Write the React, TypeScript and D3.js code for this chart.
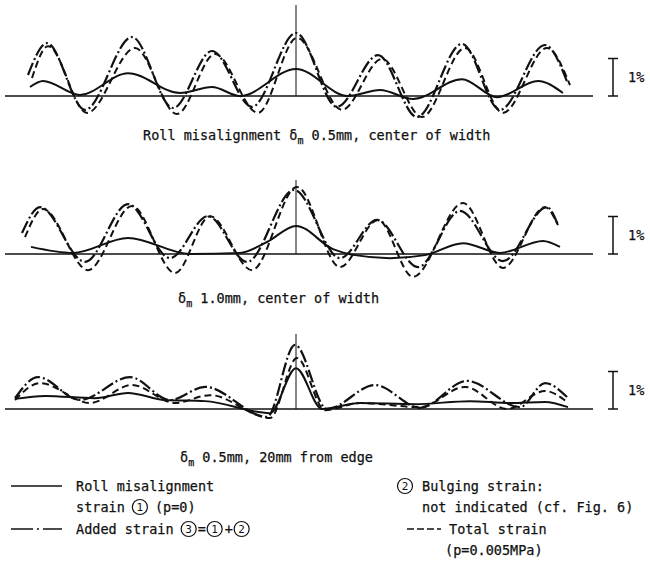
import React from "react";
import * as d3 from "d3";

// x: position relative to the centre roll (px-like units), y: strain in %
type P = [number, number];

const p1Roll: P[] = [[-266,0.24],[-253,0.4],[-216,0.03],[-168,0.61],[-116,0.08],[-84,0.24],[-56,0],[0,0.72],[52,0],[84,0.16],[117,-0.08],[166,0.45],[201,-0.03],[242,0.4],[267,0.08]];
const p1Added: P[] = [[-268,0.56],[-249,1.41],[-211,-0.37],[-164,1.57],[-123,-0.32],[-84,1.2],[-44,-0.29],[0,1.68],[41,-0.29],[82,1.09],[121,-0.56],[166,1.39],[204,-0.37],[249,1.36],[272,0.32]];
const p1Total: P[] = [[-264,0.48],[-248,1.33],[-209,-0.45],[-161,1.28],[-119,-0.48],[-81,1.12],[-38,-0.45],[1,1.55],[46,-0.37],[86,0.99],[126,-0.56],[169,1.28],[207,-0.45],[251,1.28],[274,0.29]];

const p2Roll: P[] = [[-265,0.19],[-223,0.03],[-168,0.43],[-106,0],[-56,0.03],[-29,0.32],[0,0.75],[37,0.13],[59,-0.03],[94,-0.11],[129,-0.03],[167,0.29],[204,0.03],[247,0.35],[264,0.19]];
const p2Added: P[] = [[-274,0.56],[-256,1.25],[-211,-0.21],[-168,1.33],[-126,-0.11],[-88,1.01],[-49,-0.21],[-2,1.71],[44,-0.11],[81,0.91],[122,-0.35],[164,1.15],[207,-0.19],[251,1.25],[262,0.77]];
const p2Total: P[] = [[-271,0.45],[-253,1.2],[-208,-0.43],[-164,1.28],[-121,-0.51],[-86,1.01],[-44,-0.43],[1,1.79],[44,-0.35],[82,0.91],[117,-0.61],[167,1.36],[207,-0.37],[249,1.25],[262,0.77]];

const p3Roll: P[] = [[-281,0.27],[-251,0.35],[-201,0.29],[-168,0.43],[-131,0.24],[-91,0.21],[-26,-0.11],[0,1.09],[26,0],[64,0.16],[119,0.13],[174,0.21],[214,0.16],[249,0.19],[272,0.05]];
const p3Added: P[] = [[-281,0.29],[-258,0.85],[-216,0.24],[-166,0.85],[-126,0.24],[-91,0.59],[-29,-0.21],[-1,1.71],[31,0],[79,0.64],[124,0.03],[171,0.75],[224,0.05],[249,0.69],[271,0.32]];
const p3Total: P[] = [[-281,0.24],[-256,0.69],[-206,0.16],[-164,0.64],[-121,0.16],[-86,0.37],[-26,-0.24],[1,1.36],[29,-0.03],[64,0.16],[124,0.05],[169,0.59],[211,0],[249,0.48],[271,0.19]];

const panelCaptions = ["0.5mm, center of width", "1.0mm, center of width", "0.5mm, 20mm from edge"];
const scaleLabel = "1%";

const W = 650, H = 565;
const FONT = "'DejaVu Sans Mono', 'Liberation Mono', monospace";
const FS = 13.5;
const CW = FS * 0.602;
const INK = "#111";

const panels = [
  { roll: p1Roll, added: p1Added, total: p1Total, base: 96, top: 5, prefix: "Roll misalignment ", capX: 143, capY: 135 },
  { roll: p2Roll, added: p2Added, total: p2Total, base: 254, top: 180, prefix: "", capX: 178, capY: 298 },
  { roll: p3Roll, added: p3Added, total: p3Total, base: 409, top: 334, prefix: "", capX: 180, capY: 457 },
];

const x = d3.scaleLinear().domain([-291, 297]).range([5, 593]);
const PX_PER_PCT = 37.5;

const txt = { fontSize: FS, fontFamily: FONT, fill: INK, stroke: INK, strokeWidth: 0.25 } as const;

function Circled({ cx, cy, d }: { cx: number; cy: number; d: string }) {
  return (
    <g>
      <circle cx={cx} cy={cy} r={7.5} fill="none" stroke={INK} strokeWidth={1.2} />
      <text x={cx} y={cy + 4} textAnchor="middle" fontSize={11} fontFamily={FONT} fill={INK}>{d}</text>
    </g>
  );
}

export default function App() {
  const lines = panels.map((p, i) => {
    const y = d3.scaleLinear().domain([0, 1]).range([p.base, p.base - PX_PER_PCT]);
    const gen = d3.line<P>().x(d => x(d[0])).y(d => y(d[1])).curve(d3.curveMonotoneX);
    const capText = p.prefix;
    const deltaX = p.capX + capText.length * CW;
    return (
      <g key={i}>
        <line x1={x(-291)} x2={x(297)} y1={p.base} y2={p.base} stroke={INK} strokeWidth={1.3} />
        <line x1={x(0)} x2={x(0)} y1={p.top} y2={p.base} stroke={INK} strokeWidth={1} />
        <path d={gen(p.roll) || ""} fill="none" stroke={INK} strokeWidth={2} />
        <path d={gen(p.added) || ""} fill="none" stroke={INK} strokeWidth={2.2} strokeDasharray="13,3,2,3" />
        <path d={gen(p.total) || ""} fill="none" stroke={INK} strokeWidth={2} strokeDasharray="7,4" />
        {/* scale bar */}
        <line x1={613} x2={613} y1={y(1)} y2={y(0)} stroke={INK} strokeWidth={1.5} />
        <line x1={608} x2={618} y1={y(1)} y2={y(1)} stroke={INK} strokeWidth={1.5} />
        <line x1={608} x2={618} y1={y(0)} y2={y(0)} stroke={INK} strokeWidth={1.5} />
        <text x={628} y={y(0.5) + 5} {...txt}>{scaleLabel}</text>
        {capText && <text x={p.capX} y={p.capY + 5} {...txt}>{capText}</text>}
        <text x={deltaX} y={p.capY + 5} {...txt}>
          δ<tspan dy={4} fontSize={10}>m</tspan><tspan dy={-4}> {panelCaptions[i]}</tspan>
        </text>
      </g>
    );
  });

  const lx1 = 11, lx2 = 62, tx = 76;
  const r1 = 486, r2 = 507, r3 = 529, r4 = 550;
  const rx = 405;
  return (
    <svg width={W} height={H} viewBox={`0 0 ${W} ${H}`} style={{ display: "block", position: "absolute", left: 0, top: 0, background: "#fff" }}>
      <rect width={W} height={H} fill="#fff" />
      {lines}
      {/* legend */}
      <line x1={lx1} x2={lx2} y1={r1} y2={r1} stroke={INK} strokeWidth={1.6} />
      <text x={tx} y={r1 + 5} {...txt}>Roll misalignment</text>
      <text x={tx} y={r2 + 5} {...txt}>strain</text>
      <Circled cx={tx + 7 * CW + 7} cy={r2} d="1" />
      <text x={tx + 7 * CW + 22} y={r2 + 5} {...txt}>(p=0)</text>
      <line x1={lx1} x2={lx2} y1={r3} y2={r3} stroke={INK} strokeWidth={1.6} strokeDasharray="22,4,2,4" />
      <text x={tx} y={r3 + 5} {...txt}>Added strain</text>
      <Circled cx={tx + 13 * CW + 7} cy={r3} d="3" />
      <text x={tx + 13 * CW + 16} y={r3 + 5} {...txt}>=</text>
      <Circled cx={tx + 13 * CW + 33} cy={r3} d="1" />
      <text x={tx + 13 * CW + 43} y={r3 + 5} {...txt}>+</text>
      <Circled cx={tx + 13 * CW + 60} cy={r3} d="2" />

      <Circled cx={rx} cy={r1} d="2" />
      <text x={rx + 17} y={r1 + 5} {...txt}>Bulging strain:</text>
      <text x={rx + 17} y={r2 + 5} {...txt}>not indicated (cf. Fig. 6)</text>
      <line x1={rx + 2} x2={rx + 36} y1={r3} y2={r3} stroke={INK} strokeWidth={1.6} strokeDasharray="7,3" />
      <text x={rx + 44} y={r3 + 5} {...txt}>Total strain</text>
      <text x={rx + 40} y={r4 + 5} {...txt}>(p=0.005MPa)</text>
    </svg>
  );
}
